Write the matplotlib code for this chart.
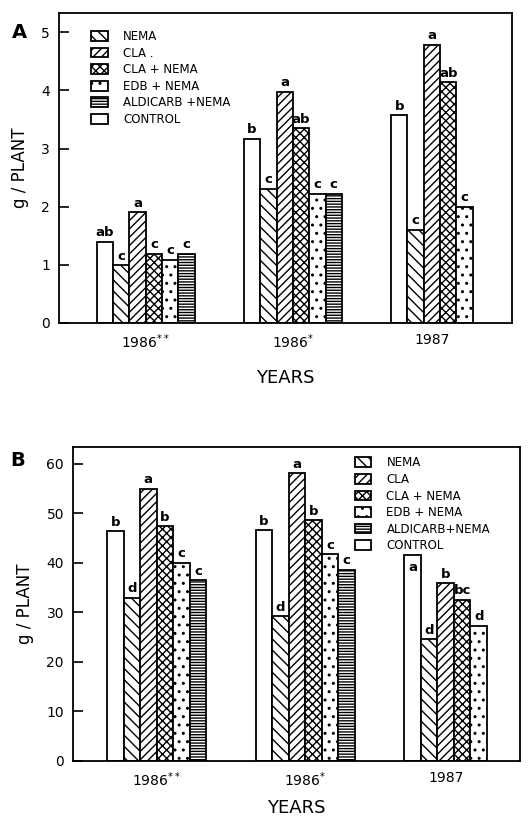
import numpy as np
import matplotlib
matplotlib.use("Agg")
from matplotlib import pyplot as plt
from matplotlib.patches import Patch

plt.rcParams['font.family'] = ['DejaVu Sans']
plt.rcParams['hatch.linewidth'] = 1.0

years = ['1986$^{**}$', '1986$^{*}$', '1987']
treatments = ['CONTROL', 'NEMA', 'CLA', 'CLA + NEMA', 'EDB + NEMA', 'ALDICARB + NEMA']
hatches = ['', '\\\\\\', '////', 'xxxx', '..', '------']

# panel A, g/plant (None = no bar)
a_vals = [
    [1.4, 3.17, 3.57],
    [0.99, 2.31, 1.6],
    [1.9, 3.97, 4.78],
    [1.19, 3.35, 4.14],
    [1.09, 2.22, 2.0],
    [1.19, 2.22, None],
]
a_letters = [
    ['ab', 'b', 'b'],
    ['c', 'c', 'c'],
    ['a', 'a', 'a'],
    ['c', 'ab', 'ab'],
    ['c', 'c', 'c'],
    ['c', 'c', None],
]

# panel B, g/plant
b_vals = [
    [46.4, 46.6, 41.5],
    [33.0, 29.2, 24.6],
    [55.0, 58.1, 35.9],
    [47.4, 48.6, 32.6],
    [40.0, 41.7, 27.3],
    [36.5, 38.6, None],
]
b_letters = [
    ['b', 'b', 'a'],
    ['d', 'd', 'd'],
    ['a', 'a', 'b'],
    ['b', 'b', 'bc'],
    ['c', 'c', 'd'],
    ['c', 'c', None],
]

legend_a = ['NEMA', 'CLA .', 'CLA + NEMA', 'EDB + NEMA', 'ALDICARB +NEMA', 'CONTROL']
legend_b = ['NEMA', 'CLA', 'CLA + NEMA', 'EDB + NEMA', 'ALDICARB+NEMA', 'CONTROL']

fig = plt.figure(figsize=(5.3, 8.16), dpi=100)
ax_a = fig.add_axes([59/530, 1 - 323/816, (512-59)/530, (323-13)/816])
ax_b = fig.add_axes([73/530, 1 - 761/816, (520-73)/530, (761-447)/816])

group_gap = 9.0


def draw(ax, vals, letters, ymax, yticks, off, xlim, xpad, inside=None):
    for i, series in enumerate(vals):
        for g, v in enumerate(series):
            if v is None:
                continue
            x = g * group_gap + i
            ax.bar(x, v, width=1.0, facecolor='white', edgecolor='black',
                   linewidth=1.3, hatch=hatches[i])
            lab = letters[i][g]
            if inside is not None and (i, g) == inside:
                ax.text(x, v - off * 0.3, lab, ha='center', va='top',
                        fontsize=9.5, fontweight='bold')
            else:
                ax.text(x, v + off * 0.15, lab, ha='center', va='bottom',
                        fontsize=9.5, fontweight='bold')
    ax.set_ylim(0, ymax)
    ax.set_xlim(*xlim)
    ax.set_yticks(yticks)
    ax.set_yticklabels([str(t) for t in yticks], fontsize=10)
    centers = [2.5, group_gap + 2.5, 2 * group_gap + 2.0]
    ax.set_xticks(centers)
    ax.set_xticklabels(years, fontsize=10)
    ax.tick_params(axis='y', direction='in', length=7, width=1.2, pad=6.5)
    ax.tick_params(axis='x', length=0, pad=7)
    for s in ax.spines.values():
        s.set_linewidth(1.3)
    ax.set_ylabel('g / PLANT', fontsize=12, labelpad=9)
    ax.set_xlabel('YEARS', fontsize=13, labelpad=xpad)


draw(ax_a, a_vals, a_letters, 5.33, [0, 1, 2, 3, 4, 5], 0.3, (-2.8, 24.9), 13)
draw(ax_b, b_vals, b_letters, 63.4, [0, 10, 20, 30, 40, 50, 60], 3.5,
     (-2.56, 24.5), 7, inside=(0, 2))

order = [1, 2, 3, 4, 5, 0]


def add_legend(ax, labels, anchor):
    handles = [Patch(facecolor='white', edgecolor='black', linewidth=1.3,
                     hatch=hatches[i]) for i in order]
    ax.legend(handles, labels, loc='upper left', bbox_to_anchor=anchor,
              frameon=False, fontsize=8.5, handlelength=1.4, handleheight=0.9,
              handletextpad=1.3, labelspacing=0.3, borderaxespad=0, borderpad=0)


add_legend(ax_a, legend_a, (0.071, 0.945))
add_legend(ax_b, legend_b, (0.63, 0.97))

fig.text(19/530, 1 - 32/816, 'A', fontsize=14, fontweight='black', ha='center', va='center')
fig.text(18/530, 1 - 461/816, 'B', fontsize=14, fontweight='black', ha='center', va='center')

fig.savefig('out.png', dpi=100)
